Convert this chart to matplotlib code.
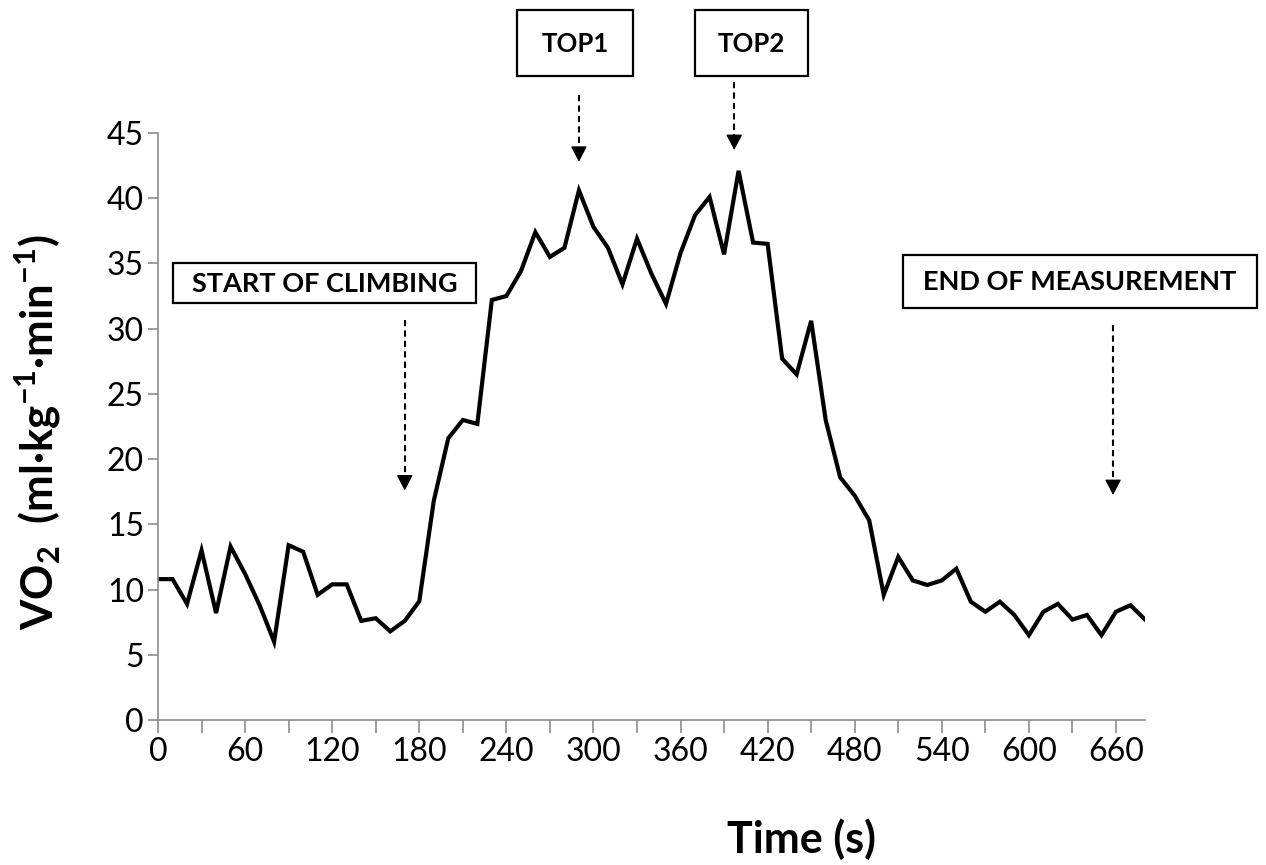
import numpy as np
import matplotlib
matplotlib.use("Agg")
import matplotlib.pyplot as plt
from matplotlib.patches import Rectangle

plt.rcParams['font.family'] = ['Lato', 'DejaVu Sans']
plt.rcParams['mathtext.fontset'] = 'custom'
plt.rcParams['mathtext.rm'] = 'Lato'
plt.rcParams['mathtext.bf'] = 'Lato:bold'

# VO2 sampled every 10 s
time_s = np.arange(0, 690, 10)
vo2 = [10.8, 10.8, 8.9, 13.0, 8.2, 13.3, 11.2, 8.8, 6.0, 13.4,
       12.9, 9.6, 10.4, 10.4, 7.6, 7.8, 6.8, 7.6, 9.1, 16.8,
       21.6, 23.0, 22.7, 32.2, 32.5, 34.4, 37.4, 35.5, 36.2, 40.6,
       37.8, 36.2, 33.4, 36.9, 34.2, 31.9, 35.8, 38.7, 40.1, 35.7,
       42.1, 36.6, 36.5, 27.7, 26.5, 30.6, 23.0, 18.6, 17.2, 15.3,
       9.6, 12.5, 10.7, 10.35, 10.7, 11.6, 9.07, 8.3, 9.07, 8.05,
       6.5, 8.3, 8.9, 7.7, 8.05, 6.5, 8.3, 8.8, 7.7]

# annotations: label, arrow x (s), arrow start / tip (VO2 units), box px (l, t, r, b), font size
notes = [
    ("START OF CLIMBING", 170, 30.7, 17.6, (173, 263, 476, 303), 19.5),
    ("TOP1", 290, 47.9, 42.8, (517, 10, 633, 76), 18.5),
    ("TOP2", 397, 48.9, 43.7, (695, 10, 808, 76), 18.5),
    ("END OF MEASUREMENT", 658, 30.3, 17.25, (903, 255, 1257, 308), 19.5),
]

W, H = 1266, 865
fig = plt.figure(figsize=(W / 100, H / 100), dpi=100)
ax = fig.add_axes([158 / W, 1 - 720 / H, (1145 - 158) / W, (720 - 133) / H])

ax.plot(time_s, vo2, color='black', lw=3, solid_joinstyle='miter')

ax.set_xlim(0, 680)
ax.set_ylim(0, 45)
ax.set_xticks(np.arange(0, 690, 30))
ax.set_xticklabels([str(t) if t % 60 == 0 else '' for t in np.arange(0, 690, 30)])
ax.set_yticks(np.arange(0, 50, 5))

grey = '#8c8c8c'
for s in ['top', 'right']:
    ax.spines[s].set_visible(False)
for s in ['left', 'bottom']:
    ax.spines[s].set_color(grey)
    ax.spines[s].set_linewidth(1.2)
ax.tick_params(axis='x', length=9, width=1.2, color=grey, labelsize=23, pad=3)
ax.tick_params(axis='y', length=7, width=1.2, color=grey, labelsize=23, pad=3)

ax.set_xlabel('Time (s)', fontsize=31, fontweight='bold')
ax.xaxis.set_label_coords(0.652, -0.168)
ax.set_ylabel(r'VO$_\mathbf{2}$  (ml·kg$^\mathbf{-1}$·min$^\mathbf{-1}$)',
              fontsize=31.5, fontweight='bold')
ax.yaxis.set_label_coords(-0.096, 0.49)

for label, xa, y0, y1, (l, t, r, b), fs in notes:
    fig.add_artist(Rectangle((l / W, 1 - b / H), (r - l) / W, (b - t) / H,
                             transform=fig.transFigure, fill=False,
                             edgecolor='black', lw=1.6))
    fig.text((l + r) / 2 / W, 1 - ((t + b) / 2 + 1) / H, label,
             ha='center', va='center', fontsize=fs, fontweight='bold')
    # dashed shaft
    ax.plot([xa, xa], [y0, y1 + 1.0], color='black', lw=1.5,
            dashes=(3, 2), clip_on=False)
    # solid head
    ax.annotate('', xy=(xa, y1), xytext=(xa, y1 + 1.05),
                arrowprops=dict(arrowstyle='-|>,head_length=0.95,head_width=0.5',
                                color='black', lw=1, shrinkA=0, shrinkB=0),
                annotation_clip=False)

fig.savefig('out.png', dpi=100)
